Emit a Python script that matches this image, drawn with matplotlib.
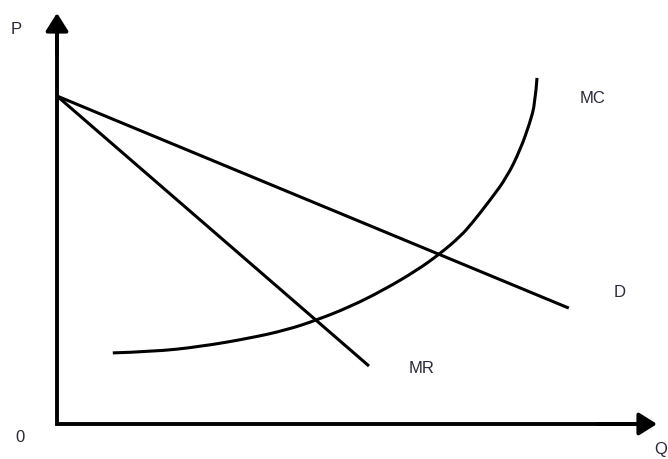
import matplotlib.pyplot as plt
from matplotlib.path import Path
from matplotlib.patches import PathPatch

# demand curve D (straight line)
d_q = [0, 85.3]
d_p = [79.8, 28.2]

# marginal revenue MR (straight line)
mr_q = [0, 52.0]
mr_p = [79.8, 14.1]

# marginal cost MC
mc_q = [9.3, 16.0, 23.8, 32.2, 38.3, 43.3, 48.8, 54.3, 60.0, 63.8,
        67.2, 69.2, 72.2, 75.0, 77.2, 78.8, 79.7, 80.0]
mc_p = [17.3, 17.6, 18.8, 20.9, 22.9, 25.3, 28.5, 32.5, 37.4, 41.4,
        45.6, 48.9, 54.5, 60.1, 66.7, 73.2, 78.1, 84.2]

# curve labels
labels = ['MC', 'D', 'MR']
label_q = [89.3, 93.8, 60.7]
label_p = [79.1, 32.1, 13.6]

plt.rcParams['font.family'] = ['Liberation Sans', 'DejaVu Sans']
txt_color = '#2a2a3a'

fig = plt.figure(figsize=(6.68, 4.59), dpi=100)
ax = fig.add_axes([0, 0, 1, 1])
ax.set_xlim(-57 / 6, (668 - 57) / 6)
ax.set_ylim(-35 / 4.11, 424 / 4.11)
ax.axis('off')

# axes with arrow heads
arrow = dict(arrowstyle='-|>,head_length=10.8,head_width=6.8',
             mutation_scale=1, lw=2.8, color='black',
             shrinkA=0, shrinkB=0)
ax.plot([0, 0, 98], [98, 0, 0], color='black', lw=2.8,
        solid_joinstyle='miter')
ax.annotate('', xy=(0, 100), xytext=(0, 90), arrowprops=arrow)
ax.annotate('', xy=(100, 0), xytext=(90, 0), arrowprops=arrow)

ax.plot(d_q, d_p, color='black', lw=2.2, solid_capstyle='butt')
ax.plot(mr_q, mr_p, color='black', lw=2.2, solid_capstyle='butt')

# smooth MC through the read points (quadratic segments)
pts = list(zip(mc_q, mc_p))
verts = [pts[0]]
codes = [Path.MOVETO]
for i in range(1, len(pts) - 1):
    if i < len(pts) - 2:
        end = ((pts[i][0] + pts[i + 1][0]) / 2, (pts[i][1] + pts[i + 1][1]) / 2)
    else:
        end = pts[i + 1]
    verts += [pts[i], end]
    codes += [Path.CURVE3, Path.CURVE3]
ax.add_patch(PathPatch(Path(verts, codes), fill=False, edgecolor='black',
                       lw=2.2, capstyle='butt'))

for lab, q, p in zip(labels, label_q, label_p):
    ax.text(q, p, lab, fontsize=12, color=txt_color, ha='center', va='center')

ax.text(-6.8, 95.9, 'P', fontsize=12, color=txt_color, ha='center', va='center')
ax.text(-6.2, -3.2, '0', fontsize=12, color=txt_color, ha='center', va='center')
ax.text(100.6, -6.2, 'Q', fontsize=12, color=txt_color, ha='center', va='center')

fig.savefig('out.png', dpi=100)
